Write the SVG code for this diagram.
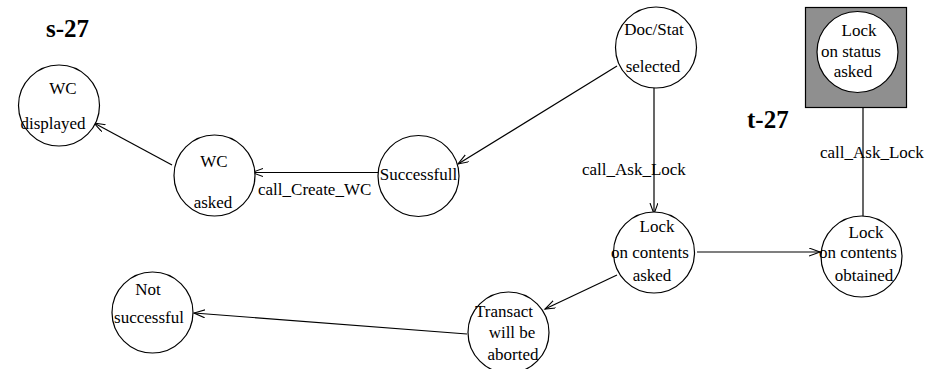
<svg xmlns="http://www.w3.org/2000/svg" width="926" height="369" viewBox="0 0 926 369">
<defs>
<style>
text{font-family:"Liberation Serif","Times New Roman",serif;font-size:17px;fill:#000}
.c{fill:#fff;stroke:#000;stroke-width:1.2}
.t{text-anchor:middle}
.h{font-weight:bold;font-size:25px}
.e{fill:none;stroke:#000;stroke-width:1.2}
</style>
<marker id="a" markerUnits="userSpaceOnUse" markerWidth="14" markerHeight="10" refX="11" refY="4" orient="auto">
<path d="M0,0 L11,4 L0,8" fill="none" stroke="#000" stroke-width="1.1"/>
</marker>
</defs>
<rect width="926" height="369" fill="#fff"/>
<text class="h" x="46" y="37">s-27</text>
<text class="h" x="747" y="128">t-27</text>
<g id="connectors">
<line class="e" x1="172" y1="165" x2="94" y2="123" marker-end="url(#a)"/>
<line class="e" x1="378" y1="172.5" x2="252" y2="172.5" marker-end="url(#a)"/>
<text x="258" y="195">call_Create_WC</text>
<line class="e" x1="617" y1="66" x2="458" y2="164" marker-end="url(#a)"/>
<line class="e" x1="654" y1="88" x2="654" y2="214" marker-end="url(#a)"/>
<text x="582" y="175">call_Ask_Lock</text>
<line class="e" x1="697" y1="252" x2="820" y2="252" marker-end="url(#a)"/>
<line class="e" x1="863" y1="216" x2="863" y2="92" marker-end="url(#a)"/>
<text x="820" y="158">call_Ask_Lock</text>
<line class="e" x1="617" y1="275" x2="545" y2="309" marker-end="url(#a)"/>
<line class="e" x1="467" y1="334" x2="194" y2="313" marker-end="url(#a)"/>
</g>
<g id="wc_displayed">
<circle class="c" cx="59" cy="105.5" r="40.5"/>
<text class="t" x="63" y="94">WC</text>
<text class="t" x="53" y="129">displayed</text>
</g>
<g id="wc_asked">
<circle class="c" cx="214.5" cy="175.5" r="40.5"/>
<text class="t" x="214" y="167">WC</text>
<text class="t" x="213" y="208">asked</text>
</g>
<g id="successfull">
<circle class="c" cx="418.5" cy="176" r="40.5"/>
<text class="t" x="418.5" y="180">Successfull</text>
</g>
<g id="doc_stat">
<circle class="c" cx="656" cy="47.5" r="40.5"/>
<text class="t" x="654" y="35">Doc/Stat</text>
<text class="t" x="653" y="72">selected</text>
</g>
<g id="lock_status">
<rect x="805.5" y="7.5" width="101" height="100" fill="#8f8f8f" stroke="#000" stroke-width="1.2"/>
<circle class="c" cx="857.5" cy="52" r="40.5"/>
<text class="t" x="859" y="36">Lock</text>
<text class="t" x="851" y="57">on status</text>
<text class="t" x="853" y="77">asked</text>
</g>
<g id="lock_contents_asked">
<circle class="c" cx="654" cy="252.5" r="40.5"/>
<text class="t" x="657" y="232">Lock</text>
<text class="t" x="650" y="258">on contents</text>
<text class="t" x="652" y="281">asked</text>
</g>
<g id="lock_contents_obtained">
<circle class="c" cx="861.5" cy="256.5" r="40.5"/>
<text class="t" x="866" y="238">Lock</text>
<text class="t" x="858" y="258">on contents</text>
<text class="t" x="864" y="281">obtained</text>
</g>
<g id="not_successful">
<circle class="c" cx="152.5" cy="312.5" r="40.5"/>
<text class="t" x="148" y="295">Not</text>
<text class="t" x="149" y="323">successful</text>
</g>
<g id="transact">
<circle class="c" cx="508.5" cy="332.5" r="40.5"/>
<text class="t" x="504" y="317">Transact</text>
<text class="t" x="512" y="338">will be</text>
<text class="t" x="513" y="360">aborted</text>
</g>
</svg>
